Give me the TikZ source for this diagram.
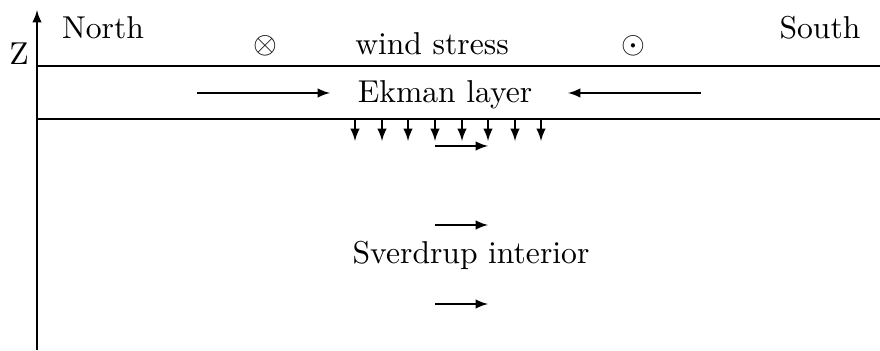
\documentclass[tikz,border=0pt]{standalone}
\usepackage{amsmath, amssymb}
\usepackage{tikz}

\begin{document}
\begin{tikzpicture}[x=0.3257pt,y=-0.3257pt,>=latex,
    every node/.style={font=\fontsize{10.3}{12}\selectfont}]
        \useasboundingbox (0,0) rectangle (880,351);
        % axis and layer boundaries
        \draw[->] (37,350) -- (37,10);
        \node (z) at (19,54) {Z};
        \draw (37,66) -- (880,66);
        \draw (37,119) -- (880,119);
        % labels above the surface
        \node (north) at (103,28) {North};
        \node (into) at (265,46) {$\otimes$};
        \node (wind) at (432,44) {wind stress};
        \node (out) at (633,46) {$\odot$};
        \node (south) at (820,28) {South};
        % Ekman layer
        \node (ekman) at (445,95) {Ekman layer};
        \draw[->] (197,93) -- (330,93);
        \draw[->] (701,93) -- (568,93);
        % pumping
        \foreach \x in {355,382,408,435,462,488,515,541}
          \draw[->] (\x,119) -- (\x,141);
        % interior flow
        \node (sverdrup) at (471,255) {Sverdrup interior};
        \foreach \y in {146,225,304}
          \draw[->] (435,\y) -- (488,\y);
      \end{tikzpicture}
\end{document}
